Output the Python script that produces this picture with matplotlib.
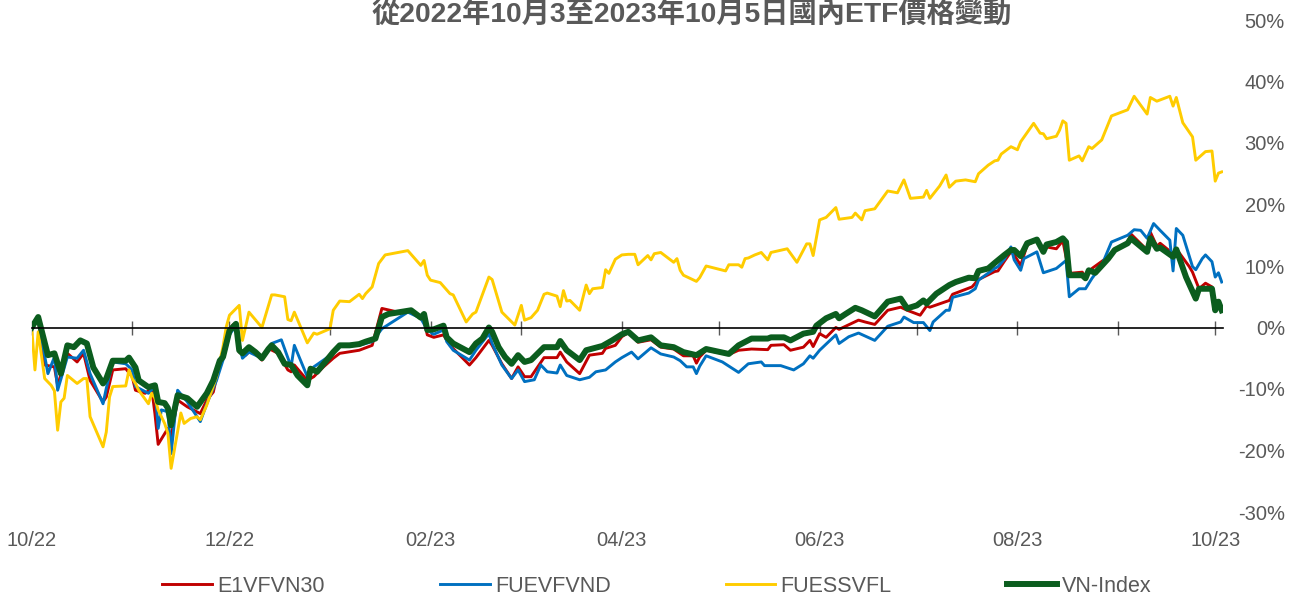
import matplotlib
matplotlib.use("Agg")
import matplotlib.pyplot as plt
import matplotlib.dates as mdates
import pandas as pd

plt.rcParams['font.family'] = ['Liberation Sans', 'Noto Sans CJK TC']

START = "2022-10-03"
TITLE = "從2022年10月3至2023年10月5日國內ETF價格變動"

# days counted from START, value = % change
e1_days = [0, 2, 4, 7, 8, 11, 14, 16, 18, 22,
           23, 25, 29, 31, 32, 35, 37, 38, 39, 42,
           43, 45, 48, 52, 54, 56, 58, 60, 61, 62,
           63, 64, 66, 68, 71, 73, 76, 79, 80, 81,
           85, 87, 90, 93, 95, 101, 105, 108, 113, 117,
           121, 122, 124, 127, 129, 135, 137, 141, 142, 145,
           148, 150, 152, 154, 158, 162, 163, 165, 169, 172,
           176, 177, 180, 182, 184, 187, 191, 194, 198, 201,
           204, 205, 206, 208, 215, 218, 222, 227, 228, 232,
           234, 238, 240, 241, 243, 245, 248, 249, 251, 255,
           257, 260, 264, 268, 270, 274, 276, 277, 283, 284,
           288, 290, 292, 297, 298, 300, 302, 303, 305, 307,
           310, 312, 313, 316, 318, 320, 324, 325, 327, 332,
           334, 338, 339, 344, 345, 347, 348, 352, 353, 357,
           358, 360, 362, 364, 365, 366, 367]
e1_vals = [0.0, 1.2, -6.1, -6.4, -9.4, -4.2, -5.6, -4.2, -8.6, -12.1,
           -11.3, -6.9, -6.7, -8.0, -10.2, -10.7, -9.9, -14.0, -19.0, -16.4,
           -17.8, -11.8, -12.9, -14.0, -11.8, -10.5, -5.9, -1.5, -0.4, 0.4,
           0.7, -4.0, -4.5, -3.4, -5.3, -3.4, -4.2, -6.9, -7.2, -6.1,
           -8.6, -8.0, -6.4, -5.0, -4.2, -3.7, -2.9, 3.1, 2.5, 2.8,
           1.2, -1.2, -1.6, -1.2, -2.9, -6.1, -4.9, -2.1, -2.9, -5.9,
           -8.3, -6.4, -8.0, -8.0, -4.9, -4.9, -4.0, -5.6, -7.5, -4.5,
           -4.2, -3.4, -2.9, -1.5, -0.8, -2.4, -2.0, -3.2, -3.5, -4.6,
           -4.6, -5.8, -4.8, -3.7, -4.4, -3.7, -3.5, -3.6, -2.9, -2.8,
           -3.7, -3.2, -2.1, -3.1, -1.0, -1.6, 0.0, -0.3, 0.2, 1.2,
           0.9, 0.5, 2.8, 3.3, 2.8, 2.0, 3.5, 3.3, 4.4, 5.4,
           6.2, 6.6, 7.8, 9.1, 9.2, 10.8, 12.3, 11.8, 10.1, 13.4,
           14.2, 12.3, 13.1, 12.8, 14.1, 8.8, 9.0, 8.2, 9.6, 11.5,
           12.6, 13.8, 15.2, 12.6, 15.5, 13.2, 13.7, 12.0, 12.8, 9.9,
           9.0, 6.3, 7.2, 6.6, 2.8, 4.4, 3.3]

fv_days = [0, 2, 5, 7, 8, 11, 14, 16, 18, 22,
           23, 25, 29, 31, 32, 36, 38, 39, 40, 42,
           43, 45, 48, 52, 54, 57, 59, 61, 62, 63,
           65, 67, 71, 74, 77, 80, 81, 85, 87, 90,
           93, 95, 101, 105, 108, 116, 120, 122, 124, 127,
           128, 130, 135, 137, 141, 142, 145, 148, 150, 152,
           155, 157, 159, 162, 163, 165, 169, 172, 174, 177,
           180, 182, 185, 187, 191, 194, 198, 200, 202, 204,
           205, 206, 208, 213, 218, 221, 225, 226, 231, 235,
           238, 240, 241, 243, 248, 249, 252, 255, 260, 264,
           268, 269, 272, 275, 277, 278, 282, 283, 284, 289,
           291, 292, 297, 298, 300, 302, 303, 305, 306, 310,
           312, 316, 319, 320, 323, 325, 327, 330, 333, 338,
           340, 342, 344, 346, 348, 351, 352, 353, 355, 358,
           359, 361, 362, 364, 365, 366, 367]
fv_vals = [0.0, 1.2, -7.5, -4.8, -10.2, -4.8, -5.0, -3.7, -7.5, -12.4,
           -9.9, -5.6, -5.9, -6.9, -9.6, -10.7, -9.6, -16.4, -13.4, -13.7,
           -20.5, -10.2, -12.1, -15.3, -12.4, -8.6, -5.3, -1.2, -0.4, -0.2,
           -5.0, -4.0, -5.0, -2.6, -2.0, -6.4, -2.9, -8.0, -6.4, -5.3,
           -4.2, -2.9, -2.9, -2.3, -0.2, 2.5, 1.5, -0.4, -1.1, -0.4,
           -2.3, -3.7, -5.3, -3.7, -1.0, -2.6, -6.1, -8.3, -6.9, -8.8,
           -8.5, -6.1, -7.2, -7.4, -6.1, -7.8, -8.5, -8.1, -7.2, -6.9,
           -5.6, -4.9, -4.0, -5.1, -3.3, -4.3, -4.8, -5.4, -6.4, -6.4,
           -7.5, -6.3, -4.6, -5.6, -7.3, -5.9, -5.6, -6.2, -6.2, -6.9,
           -5.9, -4.6, -5.0, -3.7, -1.2, -2.6, -1.5, -0.9, -2.1, 0.2,
           0.9, 1.7, 0.8, 0.8, -0.5, 0.9, 2.8, 2.8, 4.9, 5.6,
           6.3, 7.7, 9.6, 9.9, 11.1, 13.1, 11.0, 9.3, 11.2, 12.3,
           8.9, 9.6, 10.9, 5.0, 6.3, 6.3, 8.0, 10.1, 13.9, 15.0,
           15.9, 15.8, 14.5, 16.9, 15.8, 14.2, 9.2, 16.1, 15.0, 9.9,
           9.4, 11.2, 11.8, 10.7, 8.2, 8.9, 7.4]

ss_days = [0, 1, 2, 4, 6, 7, 8, 9, 10, 11,
           14, 16, 17, 18, 22, 23, 24, 25, 29, 30,
           31, 32, 33, 36, 37, 38, 39, 41, 42, 43,
           46, 47, 49, 51, 52, 54, 57, 59, 60, 61,
           64, 65, 67, 71, 74, 75, 78, 79, 80, 81,
           85, 87, 88, 92, 93, 95, 98, 101, 102, 103,
           105, 107, 109, 116, 120, 121, 122, 123, 126, 129,
           130, 134, 136, 137, 141, 142, 145, 149, 151, 152,
           154, 156, 158, 159, 162, 163, 164, 165, 166, 169,
           171, 172, 173, 176, 177, 178, 180, 182, 184, 186,
           187, 190, 191, 192, 194, 198, 199, 200, 201, 205,
           206, 208, 214, 215, 218, 219, 220, 221, 223, 225,
           227, 228, 233, 236, 239, 240, 241, 243, 245, 248,
           249, 253, 254, 256, 257, 260, 264, 267, 269, 271,
           275, 276, 277, 280, 282, 283, 285, 288, 291, 292,
           295, 297, 298, 299, 302, 304, 305, 309, 311, 312,
           313, 316, 317, 318, 319, 320, 323, 324, 326, 327,
           330, 333, 338, 340, 344, 345, 347, 351, 352, 353,
           355, 358, 359, 362, 364, 365, 366, 367]
ss_vals = [0.0, -6.9, -0.7, -8.3, -9.4, -10.3, -16.7, -12.1, -11.5, -7.8,
           -9.1, -8.3, -8.3, -14.5, -19.4, -17.0, -11.3, -9.6, -9.5, -6.9,
           -8.3, -9.1, -10.2, -12.4, -10.7, -11.5, -13.4, -15.6, -17.2, -22.9,
           -13.9, -15.6, -14.8, -14.5, -15.0, -12.6, -8.0, -3.1, 0.1, 2.0,
           3.6, -2.1, 2.5, 0.0, 5.3, 5.3, 5.0, 1.3, 1.1, 2.5,
           -2.5, -0.9, -1.1, -0.2, 2.8, 4.3, 4.2, 5.4, 4.7, 5.5,
           6.6, 10.4, 11.8, 12.5, 10.1, 10.9, 8.5, 7.7, 7.3, 5.5,
           5.3, 0.9, 2.2, 2.5, 8.2, 7.8, 2.5, 0.4, 3.6, 1.2,
           1.6, 2.8, 5.4, 5.6, 5.1, 3.4, 6.0, 4.3, 4.4, 2.8,
           6.9, 5.5, 6.3, 6.5, 9.4, 8.8, 11.1, 11.8, 11.9, 11.9,
           10.2, 11.7, 11.0, 12.0, 12.2, 10.6, 11.2, 9.3, 8.5, 7.5,
           8.1, 10.0, 9.2, 10.2, 10.2, 9.8, 11.2, 11.3, 11.8, 12.2,
           11.0, 12.2, 12.8, 10.6, 13.6, 13.6, 11.7, 17.5, 17.9, 19.5,
           17.6, 17.9, 18.6, 17.5, 19.0, 19.3, 22.2, 21.9, 24.0, 21.0,
           21.2, 22.3, 21.0, 23.0, 24.8, 22.8, 23.8, 24.0, 23.7, 25.0,
           26.4, 27.1, 27.2, 28.2, 29.4, 28.9, 30.2, 33.2, 31.6, 31.5,
           30.7, 31.1, 32.1, 33.6, 33.2, 27.2, 27.9, 27.1, 29.4, 29.1,
           30.5, 34.4, 35.4, 37.6, 34.7, 37.4, 36.8, 37.6, 36.0, 37.4,
           33.3, 31.0, 27.2, 28.6, 28.7, 23.8, 25.1, 25.3]

vn_days = [0, 2, 5, 7, 9, 11, 13, 15, 17, 19,
           22, 23, 25, 29, 30, 32, 33, 36, 38, 39,
           41, 42, 43, 45, 48, 51, 54, 56, 58, 59,
           61, 63, 64, 65, 67, 69, 71, 73, 74, 76,
           78, 80, 82, 85, 86, 88, 91, 93, 95, 98,
           101, 103, 106, 108, 110, 117, 120, 121, 122, 124,
           127, 128, 130, 135, 137, 139, 141, 142, 144, 146,
           148, 150, 152, 154, 158, 162, 163, 165, 169, 171,
           176, 179, 182, 184, 187, 191, 194, 198, 201, 205,
           208, 215, 218, 222, 227, 228, 232, 234, 238, 241,
           242, 243, 245, 248, 249, 251, 254, 256, 260, 264,
           268, 270, 273, 275, 276, 279, 283, 285, 289, 291,
           292, 295, 297, 300, 302, 303, 305, 307, 310, 312,
           313, 316, 318, 319, 320, 324, 325, 326, 328, 332,
           334, 338, 339, 344, 345, 347, 348, 352, 353, 356,
           359, 360, 364, 365, 366, 367]
vn_vals = [0.0, 1.7, -4.5, -4.2, -7.5, -2.9, -3.2, -2.1, -2.6, -6.5,
           -9.1, -8.3, -5.4, -5.4, -4.9, -6.5, -8.6, -9.7, -9.4, -12.1,
           -12.3, -13.1, -15.9, -11.0, -11.5, -12.9, -10.7, -8.6, -5.4, -4.8,
           -0.5, 0.6, -3.7, -4.2, -3.2, -4.0, -5.0, -3.5, -2.9, -4.0,
           -5.9, -6.1, -7.8, -9.4, -6.7, -7.2, -5.3, -4.0, -2.9, -2.9,
           -2.7, -2.3, -1.8, 1.7, 2.2, 2.8, 1.6, 2.2, -0.4, -0.3,
           0.3, -1.6, -2.6, -4.0, -2.6, -1.8, 0.0, -0.7, -3.2, -4.8,
           -5.9, -4.5, -5.6, -5.3, -3.2, -3.2, -2.2, -3.7, -5.3, -3.7,
           -3.0, -2.1, -1.1, -0.7, -2.1, -1.6, -2.9, -3.2, -4.0, -4.5,
           -3.5, -4.3, -2.9, -1.8, -1.8, -1.6, -1.6, -2.1, -1.0, -0.7,
           0.3, 0.7, 1.5, 2.2, 1.5, 2.2, 3.2, 2.8, 1.8, 4.2,
           4.7, 3.1, 3.6, 4.4, 3.9, 5.5, 6.9, 7.4, 8.1, 8.0,
           9.2, 9.6, 10.5, 11.8, 12.6, 12.6, 11.6, 13.7, 14.3, 12.3,
           13.5, 13.9, 14.5, 13.9, 8.5, 8.5, 8.0, 9.3, 8.9, 11.2,
           12.6, 13.7, 14.5, 12.3, 14.5, 12.8, 13.0, 11.5, 12.7, 8.2,
           4.7, 6.3, 6.3, 2.8, 4.2, 2.8]

series = [
    ("E1VFVN30", e1_days, e1_vals, "#C00000", 2.1),
    ("FUEVFVND", fv_days, fv_vals, "#0070C0", 2.1),
    ("FUESSVFL", ss_days, ss_vals, "#FFCC00", 2.1),
    ("VN-Index", vn_days, vn_vals, "#0B5D1E", 4.3),
]

W, H = 1302, 594
fig = plt.figure(figsize=(W / 100, H / 100), dpi=100)
ax = fig.add_axes([31.7 / W, 1 - 512 / H, (1223 - 31.7) / W, (512 - 20) / H])

start = pd.Timestamp(START)
for name, days, vals, col, lw in series:
    x = mdates.date2num(start + pd.to_timedelta(days, unit="D"))
    ax.plot(x, vals, color=col, lw=lw, label=name)

x0 = mdates.date2num(start)
ax.set_xlim(x0, x0 + 367.4)
ax.set_ylim(-30, 50)

for s in ["top", "left", "right"]:
    ax.spines[s].set_visible(False)
ax.spines["bottom"].set_position(("data", 0))
ax.spines["bottom"].set_color("black")
ax.spines["bottom"].set_linewidth(1.2)
ax.xaxis.set_major_locator(mdates.MonthLocator(bymonthday=3))
ax.tick_params(axis="x", direction="inout", length=10, width=1,
               color="#595959", labelbottom=False)

# labels sit at the bottom, marks stay on the zero line
sec = ax.secondary_xaxis("bottom")
sec.xaxis.set_major_locator(mdates.MonthLocator(bymonth=[2, 4, 6, 8, 10, 12], bymonthday=3))
sec.xaxis.set_major_formatter(mdates.DateFormatter("%m/%y"))
sec.tick_params(length=0, pad=14, labelsize=14.5, labelcolor="#595959")
sec.spines["bottom"].set_visible(False)

ax.yaxis.tick_right()
ax.set_yticks(range(-30, 51, 10))
ax.set_yticklabels([f"{v}%" for v in range(-30, 51, 10)])
ax.tick_params(axis="y", length=0, pad=44.6, labelsize=14.5, labelcolor="#595959")
plt.setp(ax.get_yticklabels(), ha="right")

fig.text(692 / W, 1 - 14 / H, TITLE, ha="center", va="center",
         fontsize=20.3, fontweight="bold", color="#595959")

fig.legend(loc="center", bbox_to_anchor=(657 / W, 8 / H), ncol=4,
           frameon=False, fontsize=15.5, handlelength=2.3, handletextpad=0.25,
           columnspacing=5.35, labelcolor="#595959")

fig.savefig("out.png", dpi=100)
